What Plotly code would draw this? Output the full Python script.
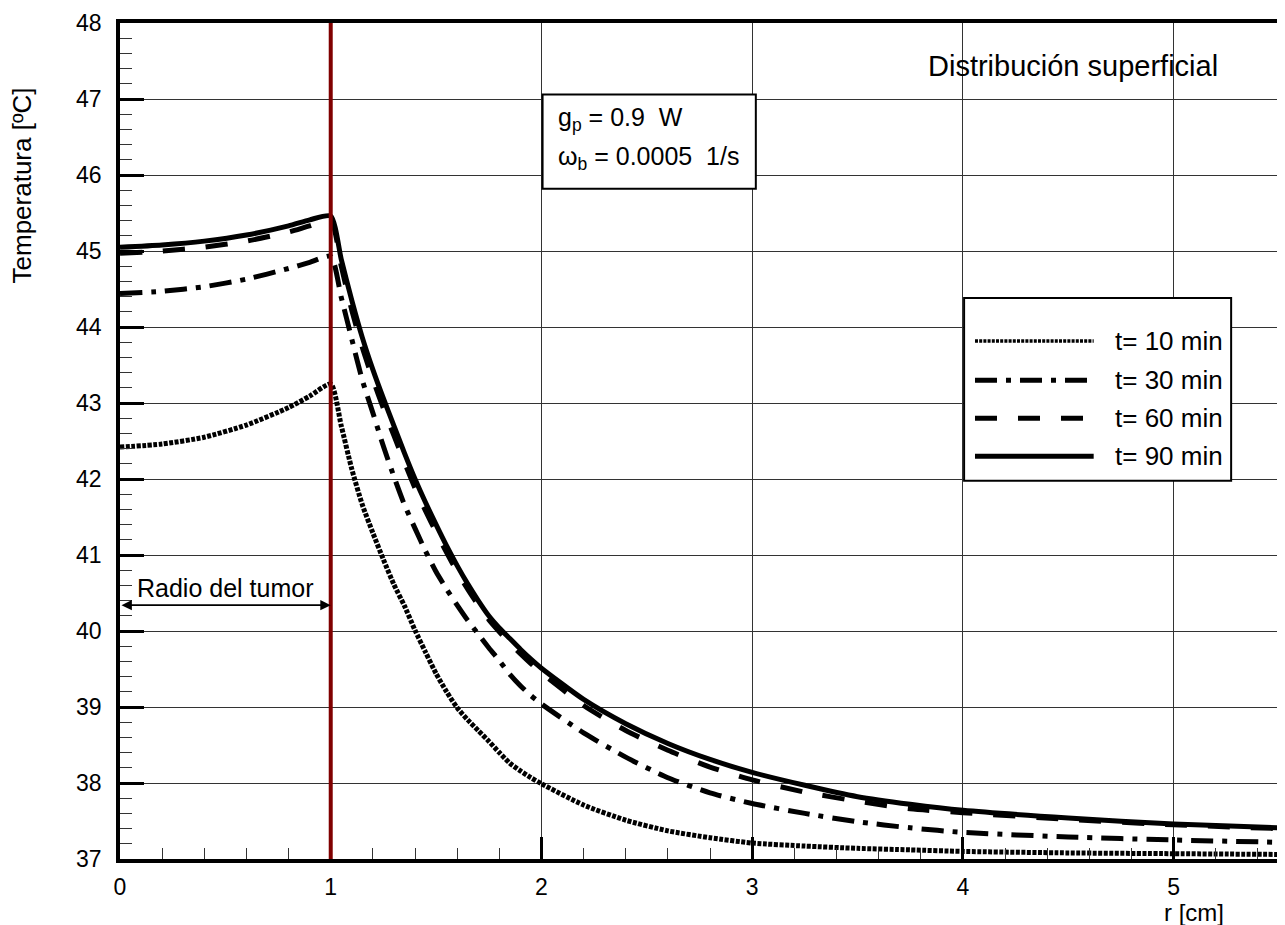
import plotly.graph_objects as go

# ---------------- data ----------------
r_cm = [0, 0.2, 0.4, 0.6, 0.8, 0.9, 1.0, 1.05, 1.1, 1.15, 1.2, 1.25, 1.3, 1.35, 1.4,
        1.45, 1.5, 1.55, 1.6, 1.65, 1.7, 1.75, 1.8, 1.85, 1.9, 1.95, 2.0, 2.2, 2.4,
        2.6, 2.8, 3.0, 3.25, 3.5, 3.75, 4.0, 4.5, 5.0, 5.5]

t10 = [42.42, 42.46, 42.55, 42.71, 42.94, 43.09, 43.25, 42.70, 42.13, 41.66, 41.29,
       40.94, 40.61, 40.33, 40.01, 39.72, 39.44, 39.20, 38.99, 38.83, 38.69, 38.55,
       38.40, 38.26, 38.16, 38.07, 37.99, 37.71, 37.51, 37.37, 37.28, 37.21, 37.17,
       37.14, 37.12, 37.10, 37.08, 37.07, 37.06]

t30 = [44.44, 44.47, 44.53, 44.63, 44.77, 44.85, 44.93, 44.39, 43.84, 43.30, 42.87,
       42.43, 42.03, 41.66, 41.35, 41.05, 40.78, 40.55, 40.34, 40.14, 39.96, 39.78,
       39.61, 39.43, 39.28, 39.15, 39.04, 38.66, 38.34, 38.07, 37.87, 37.73, 37.60,
       37.49, 37.41, 37.35, 37.29, 37.25, 37.22]

t60 = [44.97, 45.00, 45.05, 45.13, 45.25, 45.33, 45.40, 44.80, 44.22, 43.73, 43.31,
       42.93, 42.57, 42.22, 41.88, 41.58, 41.30, 41.03, 40.78, 40.55, 40.34, 40.15,
       39.99, 39.84, 39.70, 39.57, 39.45, 39.02, 38.69, 38.43, 38.21, 38.04, 37.88,
       37.76, 37.66, 37.61, 37.52, 37.45, 37.40]

t90 = [45.05, 45.08, 45.13, 45.21, 45.33, 45.41, 45.46, 44.89, 44.35, 43.86, 43.44,
       43.06, 42.70, 42.34, 42.00, 41.69, 41.40, 41.12, 40.86, 40.62, 40.40, 40.20,
       40.04, 39.90, 39.76, 39.63, 39.51, 39.10, 38.78, 38.52, 38.31, 38.14, 37.97,
       37.82, 37.72, 37.64, 37.54, 37.46, 37.41]

series_labels = ["t= 10 min", "t= 30 min", "t= 60 min", "t= 90 min"]
x_ticks = [0, 1, 2, 3, 4, 5]
y_ticks = list(range(37, 49))
tumor_radius = 1.0

# ---------------- styles ----------------
FONT = "Liberation Sans, Arial, sans-serif"
styles = [
    dict(width=5, dash="4px,1.5px"),
    dict(width=5, dash="22px,9px,5px,9px"),
    dict(width=5, dash="22px,21px"),
    dict(width=5, dash="solid"),
]
legend_widths = [3.5, 5, 5, 5]
legend_dashes = ["3px,1.2px", "22px,9px,5px,9px", "22px,21px", "solid"]
series = [t10, t30, t60, t90]

fig = go.Figure()
for ys, lab, st in zip(series, series_labels, styles):
    fig.add_trace(go.Scatter(x=r_cm, y=ys, mode="lines", name=lab, showlegend=False,
                             line=dict(color="black", width=st["width"], dash=st["dash"],
                                       shape="spline", smoothing=0.6)))

# red tumour boundary line
fig.add_shape(type="line", xref="x", yref="y", x0=tumor_radius, x1=tumor_radius,
              y0=37, y1=48, line=dict(color="#800000", width=4), layer="above")

# legend (long line samples as in the reference)
fig.add_shape(type="rect", xref="paper", yref="paper", x0=0.7283, x1=0.9587,
              y0=0.4525, y1=0.671, line=dict(color="black", width=2),
              fillcolor="white", layer="above")
rows = [0.6195, 0.5728, 0.5273, 0.4818]
for yy, lab, lw, ld in zip(rows, series_labels, legend_widths, legend_dashes):
    fig.add_shape(type="line", xref="paper", yref="paper", x0=0.7377, x1=0.8401,
                  y0=yy, y1=yy, line=dict(color="black", width=lw, dash=ld),
                  layer="above")
    fig.add_annotation(xref="paper", yref="paper", x=0.8564, y=yy, text=lab,
                       showarrow=False, xanchor="left", yanchor="middle",
                       font=dict(family=FONT, size=26, color="black"))

# parameter box
fig.add_shape(type="rect", xref="paper", yref="paper", x0=0.3646, x1=0.5486,
              y0=0.8017, y1=0.9145, line=dict(color="black", width=2),
              fillcolor="white", layer="above")
fig.add_annotation(xref="paper", yref="paper", x=0.3766, y=0.8848,
                   text="g<sub>p</sub> = 0.9\u00a0 W", showarrow=False,
                   xanchor="left", yanchor="middle",
                   font=dict(family=FONT, size=25, color="black"))
fig.add_annotation(xref="paper", yref="paper", x=0.3766, y=0.8391,
                   text="ω<sub>b</sub> = 0.0005\u00a0 1/s", showarrow=False,
                   xanchor="left", yanchor="middle",
                   font=dict(family=FONT, size=25, color="black"))

# tumour radius arrow + label
fig.add_annotation(xref="x", yref="y", x=tumor_radius, y=40.34, ax=0, ay=40.34,
                   axref="x", ayref="y", text="", showarrow=True,
                   arrowside="end+start", arrowhead=2, arrowsize=1.3,
                   arrowwidth=1.6, arrowcolor="black", standoff=0, startstandoff=0)
fig.add_annotation(xref="x", yref="y", x=0.5, y=40.56, text="Radio del tumor",
                   showarrow=False, xanchor="center", yanchor="middle",
                   font=dict(family=FONT, size=25, color="black"))

# title-like label
fig.add_annotation(xref="paper", yref="paper", x=0.822, y=0.949,
                   text="Distribución superficial", showarrow=False,
                   xanchor="center", yanchor="middle",
                   font=dict(family=FONT, size=29, color="black"))

# axis titles
fig.add_annotation(xref="paper", yref="paper", x=-0.0843, y=0.806,
                   text="Temperatura [ºC]", showarrow=False, textangle=-90,
                   xanchor="center", yanchor="middle",
                   font=dict(family=FONT, size=26, color="black"))
fig.add_annotation(xref="paper", yref="paper", x=0.927, y=-0.0645,
                   text="r [cm]", showarrow=False, xanchor="center", yanchor="middle",
                   font=dict(family=FONT, size=24, color="black"))

fig.update_xaxes(range=[0, 5.5], tickmode="array", tickvals=x_ticks,
                 ticktext=[str(v) for v in x_ticks],
                 ticks="inside", ticklen=22, tickwidth=2.5, tickcolor="black",
                 minor=dict(dtick=0.2, tick0=0, ticks="inside", ticklen=11, tickwidth=1,
                            tickcolor="#333", showgrid=False),
                 showgrid=True, gridcolor="#333", gridwidth=1,
                 showline=True, linecolor="black", linewidth=3.5, mirror=True,
                 zeroline=False, ticklabelstandoff=5, ticklabeloverflow="allow",
                 tickfont=dict(family=FONT, size=23, color="black"))
fig.update_yaxes(range=[37, 48], tickmode="array", tickvals=y_ticks,
                 ticktext=[str(v) for v in y_ticks],
                 ticks="inside", ticklen=24, tickwidth=3, tickcolor="black",
                 minor=dict(dtick=0.2, tick0=37, ticks="inside", ticklen=12, tickwidth=1,
                            tickcolor="#333", showgrid=False),
                 showgrid=True, gridcolor="#333", gridwidth=1,
                 showline=True, linecolor="black", linewidth=3.5, mirror=True,
                 zeroline=False, ticklabelstandoff=10, ticklabeloverflow="allow",
                 tickfont=dict(family=FONT, size=23, color="black"))

# the page body has an 8px margin, so the figure is sized/offset to land the
# plot area where the reference has it
fig.update_layout(width=1277, height=917, margin=dict(l=112, r=2, t=9, b=66),
                  plot_bgcolor="white", paper_bgcolor="white", showlegend=False,
                  font=dict(family=FONT, color="black"))

fig.write_html("out.html")
